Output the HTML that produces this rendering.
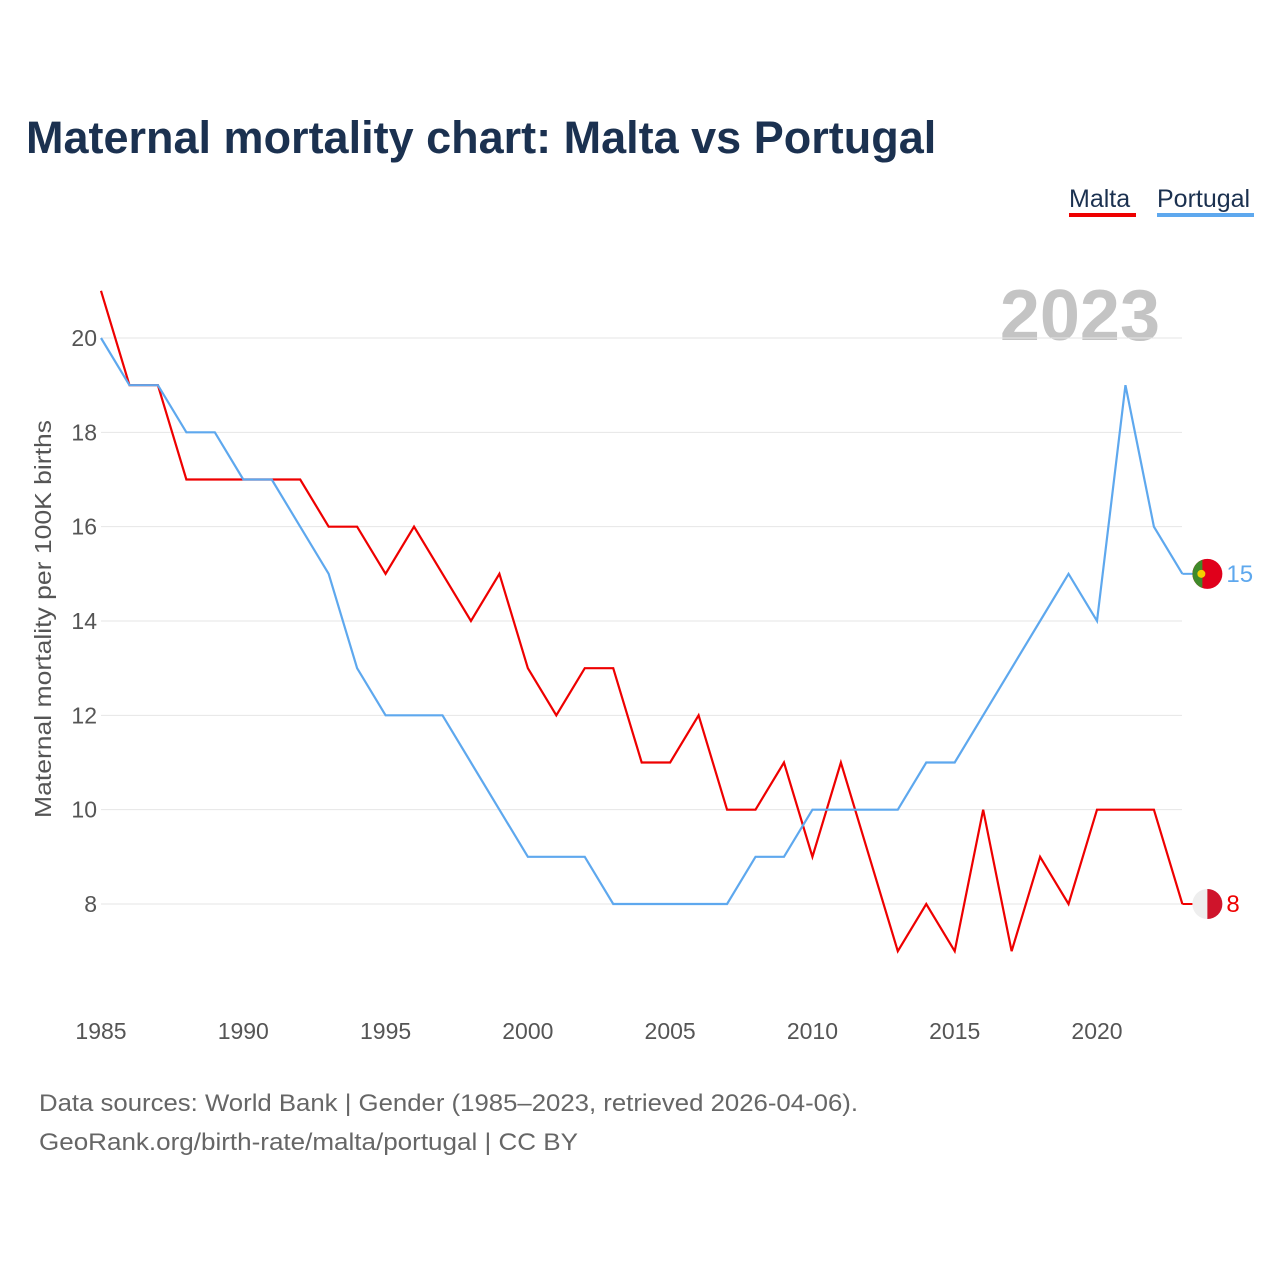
<!DOCTYPE html>
<html><head><meta charset="utf-8"><style>
body{margin:0;background:#fff;font-family:"Liberation Sans",sans-serif}
</style></head><body>
<svg id="chart" width="1280" height="1280" xmlns="http://www.w3.org/2000/svg" style="font-family:'Liberation Sans',sans-serif">
<text x="26" y="153" font-size="45" font-weight="bold" fill="#1b3150">Maternal mortality chart: Malta vs Portugal</text>
<g>
<text x="1069" y="207" font-size="25" fill="#1b3150">Malta</text>
<rect x="1069" y="213" width="67" height="4" fill="#ee0000"/>
<text x="1157" y="207" font-size="25" fill="#1b3150">Portugal</text>
<rect x="1157" y="213" width="97" height="4" fill="#5ea8ee"/>
</g>
<text x="1160" y="340" font-size="72" font-weight="bold" fill="#c4c4c4" text-anchor="end">2023</text>
<text transform="translate(51,619) rotate(-90)" text-anchor="middle" font-size="23" fill="#555" textLength="398" lengthAdjust="spacingAndGlyphs">Maternal mortality per 100K births</text>
<g id="grid"></g><g id="lines"></g><g id="ends"></g>
<text x="39" y="1111" font-size="24" fill="#666" textLength="819" lengthAdjust="spacingAndGlyphs">Data sources: World Bank | Gender (1985–2023, retrieved 2026-04-06).</text>
<text x="39" y="1150" font-size="24" fill="#666" textLength="539" lengthAdjust="spacingAndGlyphs">GeoRank.org/birth-rate/malta/portugal | CC BY</text>
</svg>
<script>
const years=[];for(let y=1985;y<=2023;y++)years.push(y);
const malta=[21,19,19,17,17,17,17,17,16,16,15,16,15,14,15,13,12,13,13,11,11,12,10,10,11,9,11,9,7,8,7,10,7,9,8,10,10,10,8];
const portugal=[20,19,19,18,18,17,17,16,15,13,12,12,12,11,10,9,9,9,8,8,8,8,8,9,9,10,10,10,10,11,11,12,13,14,15,14,19,16,15];
const yTicks=[8,10,12,14,16,18,20];
const xTicks=[1985,1990,1995,2000,2005,2010,2015,2020];
const NS="http://www.w3.org/2000/svg";
const xs=v=>101+(v-1985)*(996/35);
const ys=v=>338+(20-v)*(566/12);
function mk(t,a,p){const e=document.createElementNS(NS,t);for(const k in a)e.setAttribute(k,a[k]);p.appendChild(e);return e;}
const grid=document.getElementById('grid');
yTicks.forEach(t=>{
 const l=mk('line',{x1:101,x2:1182,y1:ys(t),y2:ys(t),stroke:'#e6e6e6','stroke-width':1},grid);
 
 
 const tx=mk('text',{x:97,y:ys(t)+8,'text-anchor':'end','font-size':23,fill:'#555'},grid);
 tx.textContent=t;
 
 
});
xTicks.forEach(t=>{
 const tx=mk('text',{x:xs(t),y:1039,'text-anchor':'middle','font-size':23,fill:'#555'},grid);
 tx.textContent=t;
 
 
});
const lines=document.getElementById('lines');
[[malta,'#ee0000','malta-line'],[portugal,'#5ea8ee','portugal-line']].forEach(([d,c,n])=>{
 const p=mk('polyline',{points:d.map((v,i)=>xs(years[i])+','+ys(v)).join(' '),fill:'none',stroke:c,'stroke-width':2.2,'stroke-linejoin':'miter'},lines);
 
 
});
const ends=document.getElementById('ends');
const lx=xs(2023);
let pv=portugal[portugal.length-1], mv=malta[malta.length-1];
let g=mk('g',{},ends);


mk('line',{x1:lx,x2:lx+12,y1:ys(pv),y2:ys(pv),stroke:'#5ea8ee','stroke-width':2},g);
mk('circle',{cx:lx+25,cy:ys(pv),r:15,fill:'#e0001b'},g);
mk('path',{d:`M${lx+25-5},${ys(pv)-14.1} A15,15 0 0 0 ${lx+25-5},${ys(pv)+14.1} Z`,fill:'#3f8a2a'},g);
mk('circle',{cx:lx+19,cy:ys(pv),r:4,fill:'#f5d000'},g);
let t=mk('text',{x:lx+44,y:ys(pv)+8,'font-size':24,fill:'#5ea8ee'},g);t.textContent=pv;
g=mk('g',{},ends);


mk('line',{x1:lx,x2:lx+12,y1:ys(mv),y2:ys(mv),stroke:'#ee0000','stroke-width':2},g);
mk('circle',{cx:lx+25,cy:ys(mv),r:15,fill:'#eeeeee'},g);
mk('path',{d:`M${lx+25},${ys(mv)-15} A15,15 0 0 1 ${lx+25},${ys(mv)+15} Z`,fill:'#cf142b'},g);
t=mk('text',{x:lx+44,y:ys(mv)+8,'font-size':24,fill:'#ee0000'},g);t.textContent=mv;
</script>
</body></html>
